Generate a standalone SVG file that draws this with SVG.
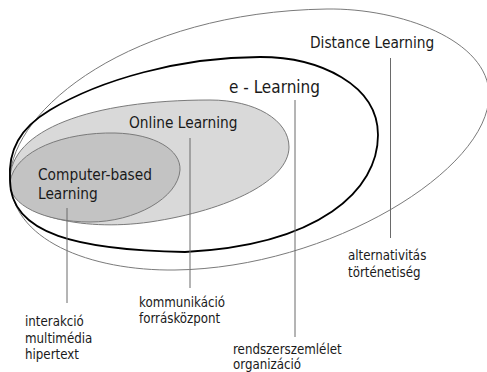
<svg xmlns="http://www.w3.org/2000/svg" width="487" height="372" viewBox="0 0 487 372">
<style>
.t{font-family:"DejaVu Sans Condensed","DejaVu Sans",sans-serif;font-stretch:condensed;fill:#1a1a1a}
.big{font-size:15.3px}
.sm{font-size:13.2px}
.thin{fill:none;stroke:#7a7a7a;stroke-width:1}
.lead{stroke:#6a6a6a;stroke-width:1;fill:none}
</style>
<rect width="487" height="372" fill="#fff"/>
<g id="online">
<path d="M10,180 C10,130 90,100 210,100 C255,100 289,120 289,147 C289,180 230,210 150,222 C80,232 10,215 10,180 Z" fill="#d9d9d9" stroke="#7a7a7a" stroke-width="1"/>
<text class="t big" x="129" y="128">Online Learning</text>
</g>
<g id="cbl">
<path d="M10,182 C15,150 65,132 115,133 C155,134 181,150 180,170 C178,198 135,222 90,222 C45,222 8,205 10,182 Z" fill="#c3c3c3" stroke="#7a7a7a" stroke-width="1"/>
<text class="t big" x="38" y="180">Computer-based</text>
<text class="t big" x="38" y="199">Learning</text>
</g>
<g id="distance">
<path class="thin" d="M10,178 C12,110 130,12 327,9 C400,8 489,40 489,95 C489,170 330,268 175,270 C90,271 10,240 10,178 Z"/>
<text class="t big" x="310" y="48">Distance Learning</text>
</g>
<g id="elearning">
<path d="M10,180 C8,150 20,128 50,110 C100,80 180,57 260,57 C320,57 378,85 378,135 C378,190 320,245 185,252 C80,250 10,235 10,180 Z" fill="none" stroke="#000" stroke-width="1.8"/>
<text class="t" style="font-size:17px" x="229" y="93">e - Learning</text>
</g>
<g id="connectors">
<line class="lead" x1="67" y1="208" x2="67" y2="303"/>
<line class="lead" x1="190" y1="138" x2="190" y2="288"/>
<line class="lead" x1="295" y1="100" x2="295" y2="337"/>
<line class="lead" x1="390.5" y1="58" x2="390.5" y2="238"/>
</g>
<g id="notes">
<text class="t sm" x="25" y="326">interakció</text>
<text class="t sm" x="25" y="343">multimédia</text>
<text class="t sm" x="25" y="359">hipertext</text>
<text class="t sm" x="139" y="307">kommunikáció</text>
<text class="t sm" x="139" y="323">forrásközpont</text>
<text class="t sm" x="233" y="354">rendszerszemlélet</text>
<text class="t sm" x="233" y="369">organizáció</text>
<text class="t sm" x="348" y="260">alternativitás</text>
<text class="t sm" x="348" y="277">történetiség</text>
</g>
</svg>
